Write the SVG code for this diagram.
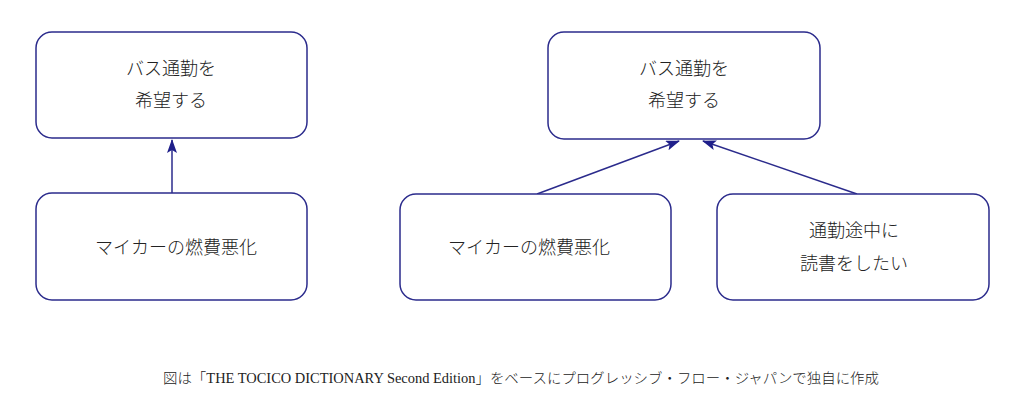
<svg xmlns="http://www.w3.org/2000/svg" width="1024" height="414" viewBox="0 0 1024 414">
<defs>
<style>
.box{fill:#fff;stroke:#2b2b8c;stroke-width:1.5}
.t{font-family:"Liberation Serif","Noto Sans CJK JP",serif;font-size:18px;font-weight:300;fill:#222;text-anchor:middle}
.cap{font-family:"Liberation Serif","Noto Sans CJK JP",serif;font-size:14px;font-weight:300;fill:#222;text-anchor:middle}
.edge{stroke:#2b2b8c;stroke-width:1.5;fill:none;marker-end:url(#ah)}
</style>
<marker id="ah" viewBox="0 0 14 10" refX="13" refY="5" markerWidth="14" markerHeight="10" markerUnits="userSpaceOnUse" orient="auto">
<path d="M0,0 L14,5 L0,10 L3,5 Z" fill="#1f1f8a"/>
</marker>
</defs>
<rect width="1024" height="414" fill="#fff"/>
<g id="connectors">
<line class="edge" x1="172" y1="193" x2="172" y2="140"/>
<line class="edge" x1="537" y1="194" x2="679" y2="141"/>
<line class="edge" x1="857" y1="194" x2="703" y2="141"/>
</g>
<g id="node-left-top">
<rect class="box" x="36" y="32" width="271" height="106" rx="16"/>
<text class="t" x="171" y="75">バス通勤を</text>
<text class="t" x="171" y="107">希望する</text>
</g>
<g id="node-left-bottom">
<rect class="box" x="36" y="193" width="271" height="107" rx="16"/>
<text class="t" x="176" y="254">マイカーの燃費悪化</text>
</g>
<g id="node-right-top">
<rect class="box" x="548" y="32" width="272" height="107" rx="16"/>
<text class="t" x="684" y="75">バス通勤を</text>
<text class="t" x="684" y="107">希望する</text>
</g>
<g id="node-right-bottom-left">
<rect class="box" x="400" y="194" width="271" height="106" rx="16"/>
<text class="t" x="529" y="254">マイカーの燃費悪化</text>
</g>
<g id="node-right-bottom-right">
<rect class="box" x="717" y="194" width="272" height="106" rx="16"/>
<text class="t" x="854" y="237">通勤途中に</text>
<text class="t" x="854" y="270">読書をしたい</text>
</g>
<text class="cap" x="521" y="383" textLength="716" lengthAdjust="spacingAndGlyphs">図は「THE TOCICO DICTIONARY Second Edition」をベースにプログレッシブ・フロー・ジャパンで独自に作成</text>
</svg>
